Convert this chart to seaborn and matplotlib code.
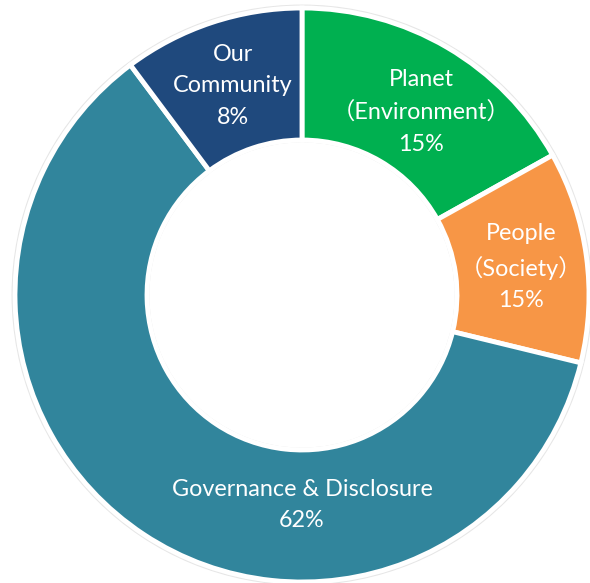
import matplotlib
matplotlib.use("Agg")
import matplotlib.pyplot as plt
import seaborn as sns

# Data
categories = ["Planet\n（Environment）", "People\n（Society）", "Governance & Disclosure", "Our\nCommunity"]
label_pcts = ["15%", "15%", "62%", "8%"]
shares = [16.9, 11.9, 61.0, 10.2]   # drawn angular shares
colors = ["#00B050", "#F79646", "#31859C", "#1F497D"]

sns.set_theme(style="white")
plt.rcParams["font.family"] = ["Lato", "Noto Sans CJK JP", "DejaVu Sans"]

W, H = 590, 583
fig = plt.figure(figsize=(W / 100, H / 100), dpi=100)
ax = fig.add_axes([0, 0, 1, 1])
R = 287.0
cx, cy = 302.0, 295.0

# faint shadow ring
ax.pie([1], radius=1.012, colors=["#e6e6e6"], startangle=90, counterclock=False,
       wedgeprops=dict(width=0.48, linewidth=0))

wedges, _ = ax.pie(shares, radius=1.0, colors=sns.color_palette(colors), startangle=90,
                   counterclock=False,
                   wedgeprops=dict(width=0.46, edgecolor="white", linewidth=3.5))
ax.set_aspect("auto")
ax.set_xlim(-cx / R, (W - cx) / R)
ax.set_ylim(-(H - cy) / R, cy / R)
ax.set_axis_off()

# label positions (pixel centres from picture)
pos_px = [(421, 112), (521, 267), (302, 505), (233, 86)]
for cat, pct, (px, py) in zip(categories, label_pcts, pos_px):
    txt = cat + "\n" + pct
    ax.text((px - cx) / R, (cy - py) / R, txt, ha="center", va="center",
            color="white", fontsize=16.8, linespacing=1.62)

fig.savefig("out.png", dpi=100, facecolor="white")
